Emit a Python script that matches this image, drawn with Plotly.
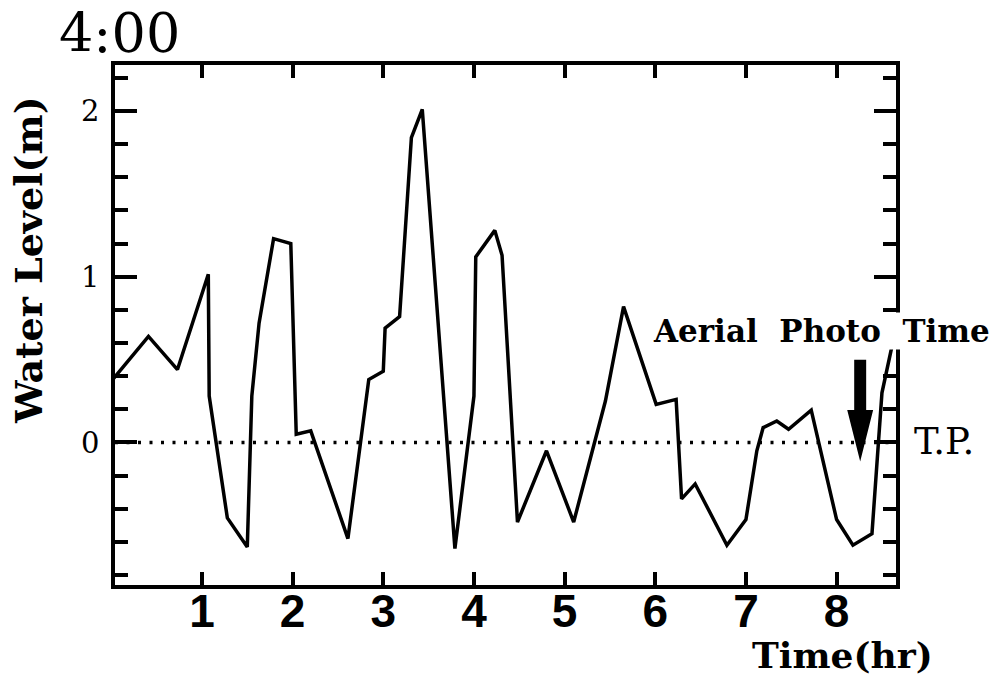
import plotly.graph_objects as go

# ---- data ----
time_hr = [0.0, 0.41, 0.73, 1.07, 1.08, 1.28, 1.50, 1.55, 1.63, 1.79, 1.98, 2.04, 2.20,
           2.61, 2.84, 3.00, 3.02, 3.18, 3.31, 3.43, 3.79, 4.00, 4.02, 4.23, 4.31, 4.48,
           4.80, 5.10, 5.45, 5.65, 6.01, 6.23, 6.29, 6.44, 6.79, 7.00, 7.12, 7.19, 7.34,
           7.47, 7.72, 8.00, 8.18, 8.39, 8.50, 8.61, 8.65]
water_level_m = [0.37, 0.64, 0.44, 1.015, 0.28, -0.455, -0.63, 0.28, 0.72, 1.23, 1.20, 0.05,
                 0.07, -0.58, 0.38, 0.43, 0.69, 0.76, 1.84, 2.01, -0.64, 0.28, 1.12, 1.28,
                 1.13, -0.48, -0.05, -0.48, 0.25, 0.82, 0.23, 0.26, -0.34, -0.25, -0.62,
                 -0.465, -0.05, 0.09, 0.13, 0.08, 0.195, -0.465, -0.62, -0.55, 0.30, 0.58, 0.76]

x_ticks = [1, 2, 3, 4, 5, 6, 7, 8]
y_ticks = [0, 1, 2]
tp_level = 0.0
photo_time = 8.26
arrow_top, arrow_head_base, arrow_tip = 0.50, 0.196, -0.115

title_text = "4:00"
x_title = "Time(hr)"
y_title = "Water Level(m)"
photo_label = "Aerial\u00a0 Photo\u00a0 Time"
tp_label = "T.P."

# ---- figure ----
fig = go.Figure()
fig.add_trace(go.Scatter(x=time_hr, y=water_level_m, mode="lines",
                         line=dict(color="black", width=3.5), hoverinfo="skip"))

# T.P. dotted reference line
fig.add_shape(type="line", xref="paper", x0=0, x1=1, yref="y", y0=tp_level, y1=tp_level,
              line=dict(color="black", width=3.5, dash="3px,8.5px"), layer="below")

# thick arrow marking aerial photo time
hw_shaft, hw_head = 0.066, 0.143
path = (f"M {photo_time - hw_shaft},{arrow_top} L {photo_time + hw_shaft},{arrow_top} "
        f"L {photo_time + hw_shaft},{arrow_head_base} L {photo_time + hw_head},{arrow_head_base} "
        f"L {photo_time},{arrow_tip} L {photo_time - hw_head},{arrow_head_base} "
        f"L {photo_time - hw_shaft},{arrow_head_base} Z")
fig.add_shape(type="path", path=path, xref="x", yref="y",
              fillcolor="black", line=dict(color="black", width=0))

serif = "DejaVu Serif, Liberation Serif, serif"
fig.add_annotation(text=title_text, xref="paper", yref="paper", x=-0.0743, y=1.0,
                   xanchor="left", yanchor="bottom", showarrow=False,
                   font=dict(family=serif, size=54, color="black"), yshift=-2)
fig.add_annotation(text=f"<b>{y_title}</b>", xref="paper", yref="paper", x=-0.1114, y=0.625,
                   xanchor="center", yanchor="middle", textangle=-90, showarrow=False,
                   font=dict(family=serif, size=38, color="black"))
fig.add_annotation(text=f"<b>{x_title}</b>", xref="paper", yref="paper", x=0.932, y=-0.1346,
                   xanchor="center", yanchor="middle",
                   showarrow=False, font=dict(family=serif, size=36, color="black"))
fig.add_annotation(text=f"<b>{photo_label}</b>", xref="paper", yref="paper", x=0.905, y=0.488,
                   xanchor="center", yanchor="middle",
                   showarrow=False, bgcolor="white", borderpad=0,
                   font=dict(family=serif, size=31, color="black"))
fig.add_annotation(text=tp_label, xref="paper", yref="paper", x=1.0615, y=0.2755,
                   xanchor="center", yanchor="middle",
                   showarrow=False, font=dict(family=serif, size=37, color="black"))

fig.update_layout(
    width=998, height=679,
    margin=dict(l=115, r=102, t=65, b=94),
    paper_bgcolor="white", plot_bgcolor="white",
    showlegend=False,
    xaxis=dict(range=[0.041, 8.655], tickmode="array", tickvals=x_ticks,
               ticktext=[str(v) for v in x_ticks],
               ticks="inside", ticklen=13, tickwidth=3.5, tickcolor="black",
               showline=True, linewidth=3.5, linecolor="black", mirror="allticks",
               showgrid=False, zeroline=False, ticklabelstandoff=-17,
               tickfont=dict(family="Liberation Sans Narrow, Arial Narrow, Liberation Sans, sans-serif",
                             size=46, color="black", weight="bold")),
    yaxis=dict(range=[-0.86, 2.278], tickmode="array", tickvals=y_ticks,
               ticktext=[str(v) for v in y_ticks],
               ticks="inside", ticklen=22, tickwidth=3.5, tickcolor="black",
               minor=dict(dtick=0.2, tick0=0, ticks="inside", ticklen=13, tickwidth=3.5,
                          tickcolor="black", showgrid=False),
               showline=True, linewidth=3.5, linecolor="black", mirror="allticks",
               showgrid=False, zeroline=False, ticklabelstandoff=6,
               tickfont=dict(family=serif, size=29, color="black")),
)

fig.write_html("out.html", config={"displayModeBar": False},
               post_script="document.body.style.margin='0';document.body.style.overflow='hidden';")
